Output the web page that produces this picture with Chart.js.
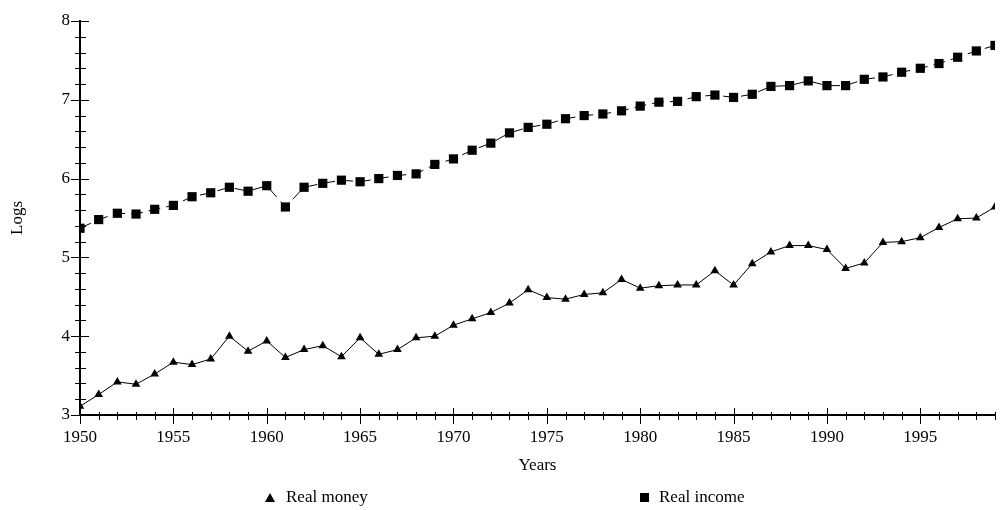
<!DOCTYPE html>
<html>
<head>
<meta charset="utf-8">
<script src="https://cdn.jsdelivr.net/npm/chart.js@4/dist/chart.umd.min.js"></script>
<style>
  html, body { margin: 0; padding: 0; background: #fff; }
  #wrap { width: 1004px; height: 510px; position: relative; }
  #legend { position: absolute; left: 0; top: 0; width: 1004px; height: 510px; pointer-events: none;
            font-family: "Liberation Serif", "Times New Roman", serif; font-size: 17px; color: #000; }
  .item { position: absolute; top: 487px; display: flex; align-items: center; white-space: nowrap; line-height: 20px; }
  .mk { display: inline-block; margin-right: 11px; }
  .mk.triangle { width: 0; height: 0; border-left: 5px solid transparent; border-right: 5px solid transparent; border-bottom: 9px solid #000; }
  .mk.rect { width: 9px; height: 9px; background: #000; margin-right: 10px; }
</style>
</head>
<body>
<div id="wrap"><canvas id="c" width="1004" height="510"></canvas><div id="legend"></div></div>
<script>
const years = [1950,1951,1952,1953,1954,1955,1956,1957,1958,1959,
               1960,1961,1962,1963,1964,1965,1966,1967,1968,1969,
               1970,1971,1972,1973,1974,1975,1976,1977,1978,1979,
               1980,1981,1982,1983,1984,1985,1986,1987,1988,1989,
               1990,1991,1992,1993,1994,1995,1996,1997,1998,1999];

const realMoney = [3.11,3.26,3.42,3.39,3.52,3.67,3.64,3.71,4.00,3.81,
                   3.94,3.73,3.83,3.88,3.74,3.98,3.77,3.83,3.98,4.00,
                   4.14,4.22,4.30,4.42,4.59,4.49,4.47,4.53,4.55,4.72,
                   4.61,4.64,4.65,4.65,4.83,4.65,4.92,5.07,5.15,5.15,
                   5.10,4.86,4.93,5.19,5.20,5.25,5.38,5.49,5.50,5.64];

const realIncome = [5.37,5.48,5.56,5.55,5.61,5.66,5.77,5.82,5.89,5.84,
                    5.91,5.64,5.89,5.94,5.98,5.96,6.00,6.04,6.06,6.18,
                    6.25,6.36,6.45,6.58,6.65,6.69,6.76,6.80,6.82,6.86,
                    6.92,6.97,6.98,7.04,7.06,7.03,7.07,7.17,7.18,7.24,
                    7.18,7.18,7.26,7.29,7.35,7.40,7.46,7.54,7.62,7.69];

const xLabelYears = [1950,1955,1960,1965,1970,1975,1980,1985,1990,1995];
const yLabelValues = [3,4,5,6,7,8];
const seriesNames = ['Real money','Real income'];
const axisTitles = { x: 'Years', y: 'Logs' };

Chart.defaults.font.family = '"Liberation Serif", "Times New Roman", serif';
Chart.defaults.font.size = 17;
Chart.defaults.color = '#000';

const isInt = v => Math.abs(v - Math.round(v)) < 1e-6;

const crossTicks = {
  id: 'crossTicks',
  afterDraw(chart) {
    const ctx = chart.ctx;
    const xs = chart.scales.x, ys = chart.scales.y;
    const ax = chart.chartArea.left, ay = chart.chartArea.bottom;
    ctx.save();
    ctx.strokeStyle = '#000';
    ctx.lineWidth = 1;
    ctx.beginPath();
    xs.ticks.forEach(t => {
      const px = Math.round(xs.getPixelForValue(t.value)) + 0.5;
      const major = xLabelYears.includes(Math.round(t.value));
      if (major) { ctx.moveTo(px, ay - 7); ctx.lineTo(px, ay + 9); }
      else { ctx.moveTo(px, ay - 3); ctx.lineTo(px, ay + 5); }
    });
    ys.ticks.forEach(t => {
      const py = Math.round(ys.getPixelForValue(t.value)) + 0.5;
      const major = isInt(t.value);
      if (major) { ctx.moveTo(ax - 9, py); ctx.lineTo(ax + 9, py); }
      else { ctx.moveTo(ax - 5, py); ctx.lineTo(ax + 6, py); }
    });
    ctx.stroke();
    ctx.restore();
  }
};

const chart = new Chart(document.getElementById('c'), {
  type: 'line',
  data: {
    datasets: [
      {
        label: seriesNames[0],
        data: years.map((y, i) => ({ x: y, y: realMoney[i] })),
        borderColor: '#000',
        backgroundColor: '#000',
        borderWidth: 1,
        pointStyle: 'triangle',
        pointRadius: 5,
        pointBorderWidth: 0,
        pointBackgroundColor: '#000',
        tension: 0
      },
      {
        label: seriesNames[1],
        data: years.map((y, i) => ({ x: y, y: realIncome[i] })),
        borderColor: '#000',
        backgroundColor: '#000',
        borderWidth: 1,
        borderDash: [12, 6],
        pointStyle: 'rect',
        pointRadius: 6.5,
        pointBorderWidth: 0,
        pointBackgroundColor: '#000',
        tension: 0
      }
    ]
  },
  options: {
    responsive: false,
    animation: false,
    devicePixelRatio: 1,
    layout: { padding: { left: 0, right: 9, top: 21, bottom: 0 } },
    plugins: {
      tooltip: { enabled: false },
      legend: { display: false }
    },
    scales: {
      x: {
        type: 'linear',
        min: 1950,
        max: 1999,
        grid: { display: true, drawOnChartArea: false, drawTicks: false },
        border: { display: true, color: '#000', width: 2 },
        ticks: {
          stepSize: 1,
          autoSkip: false,
          maxRotation: 0,
          padding: 12,
          color: '#000',
          callback: v => xLabelYears.includes(Math.round(v)) ? String(Math.round(v)) : ''
        },
        title: { display: true, text: axisTitles.x, color: '#000', padding: { top: 4, bottom: 34 } },
        afterFit: s => { s.height = 95; s.paddingRight = 0; s.paddingLeft = 0; }
      },
      y: {
        type: 'linear',
        min: 3,
        max: 8,
        grid: { display: true, drawOnChartArea: false, drawTicks: false },
        border: { display: true, color: '#000', width: 2 },
        ticks: {
          stepSize: 0.2,
          autoSkip: false,
          padding: 10,
          color: '#000',
          callback: v => (isInt(v) && yLabelValues.includes(Math.round(v))) ? String(Math.round(v)) : ''
        },
        title: { display: true, text: axisTitles.y, color: '#000', padding: { top: 7, bottom: 4 } },
        afterFit: s => { s.width = 80; }
      }
    }
  },
  plugins: [crossTicks]
});

// HTML legend built from the chart's own legend items
const legendLeft = [265, 640];
const legendEl = document.getElementById('legend');
Chart.defaults.plugins.legend.labels.generateLabels(chart).forEach((item, i) => {
  const ds = chart.data.datasets[item.datasetIndex];
  const div = document.createElement('div');
  div.className = 'item';
  div.style.left = legendLeft[i] + 'px';
  const mk = document.createElement('span');
  mk.className = 'mk ' + ds.pointStyle;
  const tx = document.createElement('span');
  tx.textContent = item.text;
  div.appendChild(mk);
  div.appendChild(tx);
  legendEl.appendChild(div);
});
</script>
</body>
</html>
